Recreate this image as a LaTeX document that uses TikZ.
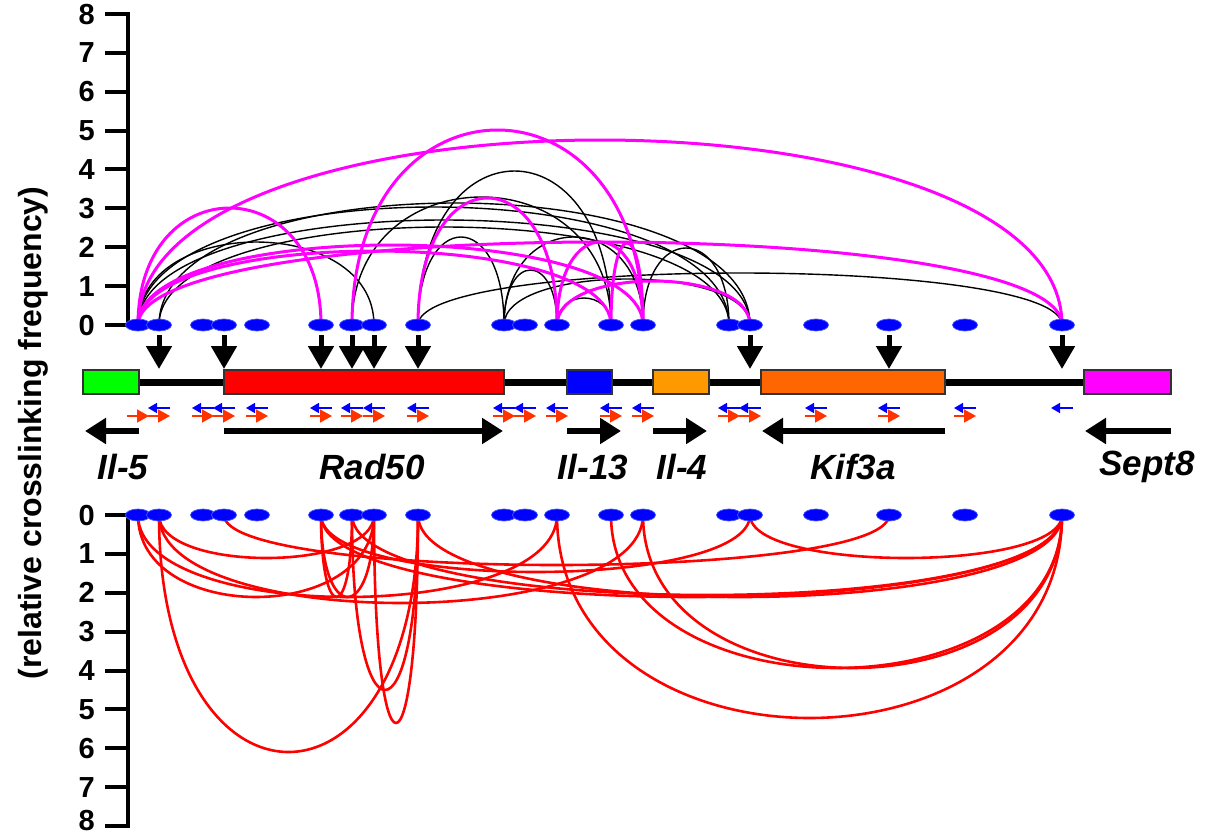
\documentclass[tikz,border=0pt]{standalone}
\usepackage{fontspec}
\setmainfont{Liberation Sans}
\usetikzlibrary{arrows.meta,shapes.geometric}
\pgfdeclarelayer{bg}
\pgfsetlayers{bg,main}
\definecolor{siteblue}{RGB}{0,0,255}
\definecolor{siteedge}{RGB}{70,90,255}
\definecolor{magarc}{RGB}{255,0,255}
\definecolor{redarc}{RGB}{255,0,0}
\definecolor{primred}{RGB}{255,51,0}
\definecolor{gIlfive}{RGB}{0,255,0}
\definecolor{gRad}{RGB}{255,0,0}
\definecolor{gIlthirteen}{RGB}{0,0,255}
\definecolor{gIlfour}{RGB}{255,153,0}
\definecolor{gKif}{RGB}{255,102,0}
\definecolor{gSept}{RGB}{255,0,255}
\begin{document}
\begin{tikzpicture}[x=1pt,y=-1pt,
  site/.style={ellipse,minimum width=25pt,minimum height=12pt,inner sep=0pt,fill=siteblue,draw=siteedge,line width=0.7pt},
  magline/.style={draw=magarc,line width=3pt},
  blkline/.style={draw=black,line width=1.4pt},
  redline/.style={draw=redarc,line width=2.6pt},
  axisline/.style={line width=4.5pt},
  tickline/.style={line width=4pt},
  ticklab/.style={anchor=east,inner sep=0pt,text depth=0pt,font=\fontsize{29}{31}\selectfont\bfseries},
  genelab/.style={inner sep=0pt,font=\fontsize{35}{38}\selectfont\bfseries\itshape},
  genebox/.style={draw=black!80,line width=1.2pt},
  downarrow/.style={line width=5pt,-{Triangle[length=23pt 0 0,width=25pt 0 0]}},
  genearrow/.style={line width=6pt,-{Triangle[length=21pt 0 0,width=25pt 0 0]}},
  primerblue/.style={draw=siteblue,line width=1.6pt,-{Triangle[length=9pt 0 0,width=10pt 0 0]}},
  primerred/.style={draw=primred,line width=1.6pt,-{Triangle[length=12pt 0 0,width=13pt 0 0]}}]
\useasboundingbox (0,0) rectangle (1206,837);

% axes
\draw[axisline] (128,12) -- (128,327);
\draw[axisline] (128,513) -- (128,828);
\foreach \k in {0,...,8}{
  \pgfmathsetmacro\yt{325-38.875*\k}
  \pgfmathsetmacro\yb{515+38.875*\k}
  \draw[tickline] (105,\yt) -- (128,\yt);
  \draw[tickline] (105,\yb) -- (128,\yb);
  \node[ticklab] (lt\k) at (95,\yt) {\k};
}
\foreach \k in {0,...,7}{
  \pgfmathsetmacro\yb{515+38.875*\k}
  \node[ticklab] (lb\k) at (95,\yb) {\k};
}
\node[ticklab] (lb8) at (95,820.5) {8};
\node[rotate=90,inner sep=0pt,font=\fontsize{32}{34}\selectfont\bfseries] (ylab) at (33,433) {(relative crosslinking frequency)};

% interaction sites
\foreach \i/\x in {1/138,2/159,3/203,4/224,5/257,6/321,7/352,8/374,9/418,10/504,11/525,12/557,13/611,14/643,15/729,16/750,17/816,18/889,19/965,20/1062}{
  \node[site] (t\i) at (\x,325) {};
  \node[site] (b\i) at (\x,515) {};
}

\begin{pgfonlayer}{bg}
% top black arcs
\foreach \a/\b/\h in {1/8/83, 7/13/128, 9/13/154, 9/10/88, 10/12/55, 10/14/88, 9/20/52, 12/13/27, 14/15/77, 2/16/122, 1/15/118, 1/16/105, 2/15/98, 10/16/46}{
  \draw[blkline] (t\a.center) .. controls +(0,{-1.3333*\h}) and +(0,{-1.3333*\h}) .. (t\b.center);
}
% top magenta arcs
\foreach \a/\b/\h in {1/6/117, 1/20/185, 1/20/83, 1/14/80, 1/13/74, 7/14/195, 9/12/127, 12/14/83, 13/14/82, 12/16/44}{
  \draw[magline] (t\a.center) .. controls +(0,{-1.3333*\h}) and +(0,{-1.3333*\h}) .. (t\b.center);
}
% bottom red arcs
\foreach \a/\b/\h in {2/9/237, 7/9/175, 8/9/208, 12/20/203, 13/20/153, 14/20/153, 16/20/43, 4/18/50, 1/12/82, 6/20/82, 7/20/80, 9/20/82, 6/16/57, 2/8/43, 2/14/88, 6/7/82, 6/8/82, 1/8/82}{
  \draw[redline] (b\a.center) .. controls +(0,{1.3333*\h}) and +(0,{1.3333*\h}) .. (b\b.center);
}
\end{pgfonlayer}

% down arrows
\foreach \x in {159,224,321,352,374,418,750,889,1062}{
  \draw[downarrow] (\x,335) -- (\x,369);
}

% gene line and boxes
\draw[line width=7pt] (83,382) -- (1171,382);
\node[genebox,fill=gIlfive,minimum width=56pt,minimum height=24pt,inner sep=0pt] (gA) at (111,382) {};
\node[genebox,fill=gRad,minimum width=280pt,minimum height=24pt,inner sep=0pt] (gB) at (364,382) {};
\node[genebox,fill=gIlthirteen,minimum width=45pt,minimum height=24pt,inner sep=0pt] (gC) at (589.5,382) {};
\node[genebox,fill=gIlfour,minimum width=56pt,minimum height=24pt,inner sep=0pt] (gD) at (681,382) {};
\node[genebox,fill=gKif,minimum width=184pt,minimum height=24pt,inner sep=0pt] (gE) at (853,382) {};
\node[genebox,fill=gSept,minimum width=87pt,minimum height=24pt,inner sep=0pt] (gF) at (1127.5,382) {};

% primers
\foreach \x in {159,203,224,257,321,352,374,418,504,525,557,611,643,729,750,816,889,965,1062}{
  \draw[primerblue] (\x+11,408) -- (\x-11,408);
}
\foreach \x in {138,159,203,224,257,321,352,374,418,504,525,557,611,643,729,750,816,889,965}{
  \draw[primerred] (\x-11,416) -- (\x+11,416);
}

% gene direction arrows
\draw[genearrow] (139,431) -- (85,431);
\draw[genearrow] (224,431) -- (503,431);
\draw[genearrow] (567,431) -- (621,431);
\draw[genearrow] (653,431) -- (707,431);
\draw[genearrow] (945,431) -- (762,431);
\draw[genearrow] (1171,431) -- (1085,431);

% gene labels
\node[genelab] (nIlfive) at (123,467) {Il-5};
\node[genelab] (nRad) at (372,467) {Rad50};
\node[genelab] (nIlthirteen) at (593,467) {Il-13};
\node[genelab] (nIlfour) at (682,467) {Il-4};
\node[genelab] (nKif) at (853,467) {Kif3a};
\node[genelab] (nSept) at (1147,467) {Sept8};
\end{tikzpicture}
\end{document}
